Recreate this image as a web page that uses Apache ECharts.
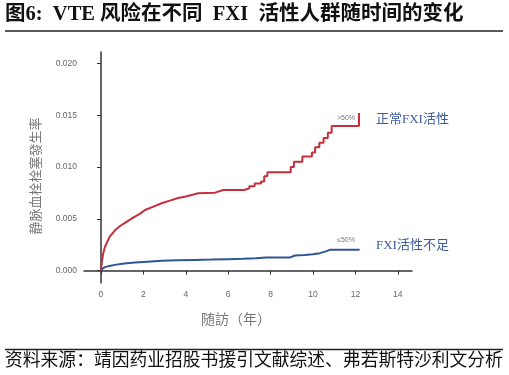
<!DOCTYPE html>
<html><head><meta charset="utf-8">
<script src="https://cdn.jsdelivr.net/npm/echarts@6/dist/echarts.min.js"></script>
<style>html,body{margin:0;padding:0;background:#fff}#c{width:509px;height:375px}</style>
</head><body><div id="c"></div>
<script>
// Data (years of follow-up, VTE incidence)
const xTicks = [0, 2, 4, 6, 8, 10, 12, 14];
const yTicks = [0, 0.005, 0.010, 0.015, 0.020];
const redYears = [0,0.05,0.1,0.19,0.3,0.42,0.55,0.66,0.9,1.13,1.35,1.6,1.85,2.08,2.5,2.86,3.25,3.64,4.0,4.28,4.58,5.38,5.46,5.77,6.75,6.75,7.0,7.0,7.25,7.25,7.55,7.55,7.7,7.7,7.85,7.85,8.95,8.95,9.1,9.1,9.5,9.5,9.95,9.95,10.1,10.1,10.3,10.3,10.5,10.5,10.7,10.7,10.88,10.88,12.17,12.17];
const redValues = [0,0.0010,0.0016,0.0023,0.0028,0.0033,0.0036,0.0039,0.0043,0.0046,0.0049,0.0052,0.0055,0.00585,0.0062,0.0065,0.00675,0.0070,0.00715,0.0073,0.00746,0.00752,0.00762,0.00778,0.00778,0.00795,0.00795,0.00815,0.00815,0.0084,0.0084,0.0086,0.0086,0.0091,0.0091,0.0095,0.0095,0.0100,0.0100,0.0105,0.0105,0.0110,0.0110,0.0114,0.0114,0.0119,0.0119,0.01235,0.01235,0.0128,0.0128,0.0133,0.0133,0.01395,0.01395,0.0152];
const blueYears = [0,0.08,0.19,0.4,0.66,1.0,1.6,2.2,2.86,3.6,4.43,5.2,6.0,6.7,7.3,7.8,8.9,9.15,9.6,10.0,10.33,10.6,10.8,12.2];
const blueValues = [0,0.0002,0.00033,0.00045,0.00055,0.00065,0.00077,0.00086,0.00094,0.00099,0.00103,0.00106,0.0011,0.00113,0.00118,0.00125,0.00125,0.00145,0.0015,0.00158,0.00168,0.00185,0.002,0.002];

const redData = redYears.map((x, i) => [x, redValues[i]]);
const blueData = blueYears.map((x, i) => [x, blueValues[i]]);

const chart = echarts.init(document.getElementById('c'));
const labelColor = '#666';
chart.setOption({
  animation: false,
  grid: { left: 84, right: 97, top: 52, bottom: 92 },
  xAxis: {
    type: 'value', min: -0.8, max: 14.67,
    axisLine: { show: true, lineStyle: { color: '#333', width: 1.5 } },
    axisTick: { show: true, customValues: xTicks, length: 4, lineStyle: { color: '#333' } },
    axisLabel: { customValues: xTicks, color: labelColor, fontSize: 8.5, margin: 7, fontFamily: 'Liberation Sans' },
    splitLine: { show: false }
  },
  yAxis: {
    type: 'value', min: -0.0012, max: 0.0211,
    axisLine: { show: true, lineStyle: { color: '#333', width: 1.5 } },
    axisTick: { show: true, customValues: yTicks, length: 4, lineStyle: { color: '#333' } },
    axisLabel: { customValues: yTicks, color: labelColor, fontSize: 8.5, margin: 7, fontFamily: 'Liberation Sans',
      formatter: v => v.toFixed(3) },
    splitLine: { show: false }
  },
  series: [
    { type: 'line', data: redData, showSymbol: false, lineStyle: { color: '#c3303b', width: 2 }, z: 3 },
    { type: 'line', data: blueData, showSymbol: false, lineStyle: { color: '#2f5597', width: 2 }, z: 2 }
  ],
  graphic: [
    { type: 'text', left: 5, top: 4, style: { text: '图6:  VTE 风险在不同  FXI  活性人群随时间的变化', fontSize: 20.5, fontWeight: 'bold', fill: '#111', fontFamily: 'Liberation Serif, Noto Sans CJK SC' } },
    { type: 'line', shape: { x1: 5, y1: 31, x2: 503, y2: 31 }, style: { stroke: '#222', lineWidth: 1.5 } },
    { type: 'line', shape: { x1: 5, y1: 349.5, x2: 503, y2: 349.5 }, style: { stroke: '#222', lineWidth: 1.5 } },
    { type: 'text', left: 5, top: 350, style: { text: '资料来源：靖因药业招股书援引文献综述、弗若斯特沙利文分析', fontSize: 17.8, fill: '#111', fontFamily: 'Noto Sans CJK SC' } },
    { type: 'text', x: 35, y: 176, rotation: Math.PI / 2, style: { text: '静脉血栓栓塞發生率', fontSize: 13, fill: '#777', align: 'center', verticalAlign: 'middle', fontFamily: 'Noto Sans CJK SC' } },
    { type: 'text', x: 236, y: 319, style: { text: '随訪（年）', fontSize: 14, fill: '#777', align: 'center', verticalAlign: 'middle', fontFamily: 'Noto Sans CJK SC' } },
    { type: 'text', x: 346, y: 118, style: { text: '>50%', fontSize: 7, fill: '#777', align: 'center', verticalAlign: 'middle', fontFamily: 'Liberation Sans' } },
    { type: 'text', x: 346, y: 240, style: { text: '≤50%', fontSize: 7, fill: '#777', align: 'center', verticalAlign: 'middle', fontFamily: 'Liberation Sans' } },
    { type: 'text', x: 376, y: 120, style: { text: '正常FXI活性', fontSize: 13, fill: '#3c5a9c', align: 'left', verticalAlign: 'middle', fontFamily: 'Liberation Serif, Noto Sans CJK SC' } },
    { type: 'text', x: 376, y: 246, style: { text: 'FXI活性不足', fontSize: 13, fill: '#3c5a9c', align: 'left', verticalAlign: 'middle', fontFamily: 'Liberation Serif, Noto Sans CJK SC' } }
  ]
});
</script></body></html>
